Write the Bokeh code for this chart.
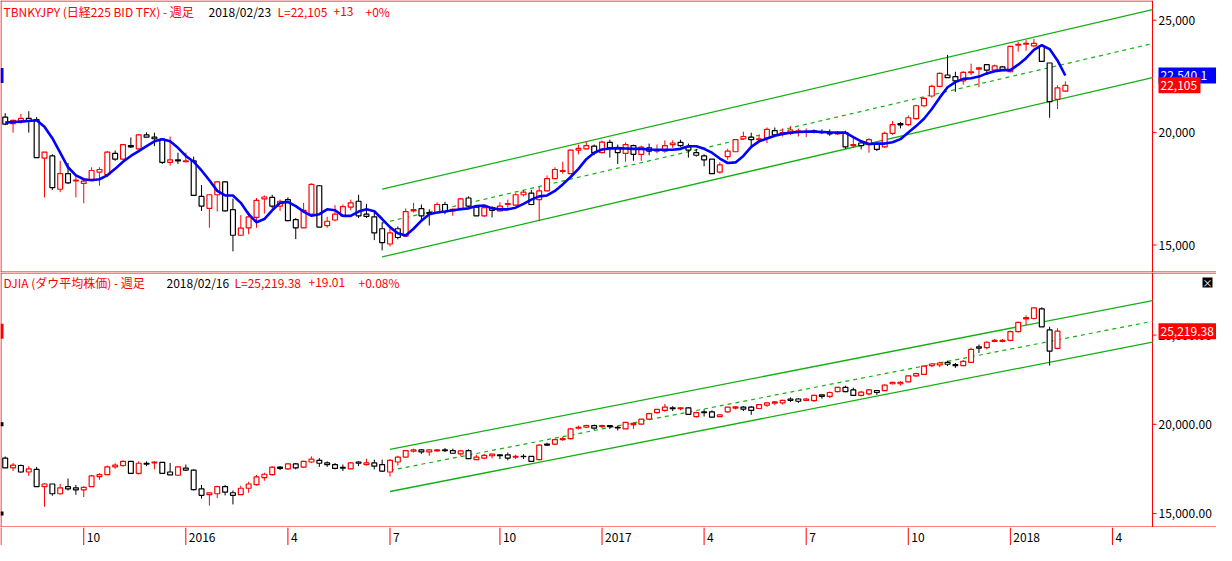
import pandas as pd
from bokeh.plotting import figure
from bokeh.layouts import column
from bokeh.models import ColumnDataSource, Range1d, Label
from bokeh.core.properties import value
from bokeh.embed import file_html
from bokeh.resources import INLINE

# ---------------- data ----------------
first_week = "2015-07-24"   # weekly bars (Friday dates)
weeks = pd.date_range(first_week, periods=148, freq="W-FRI")

# TBNKYJPY (Nikkei 225 CFD) weekly OHLC
nk_open = [20691, 20402, 20518, 20635, 20574, 18864, 18963, 17481, 18172, 17853,
           17740, 17926, 18242, 18129, 19080, 18820, 19425, 19278, 19900, 19797,
           19710, 18674, 18790, 18704, 18747, 17162, 16630, 17235, 17810, 16574,
           15434, 15766, 16228, 17049, 17118, 16730, 17019, 16125, 15766, 16371,
           17637, 15866, 16112, 16298, 16686, 16946, 16371, 16254, 15723, 15045,
           15723, 15390, 16514, 16617, 16444, 16444, 16803, 16514, 16630, 17092,
           16686, 16298, 16660, 16514, 16803, 16773, 17235, 17308, 17019, 17408,
           17956, 18272, 18172, 19222, 19278, 19395, 19106, 19568, 19322, 19080,
           19425, 19036, 19322, 19179, 19179, 19468, 19568, 19365, 19106, 18963,
           18820, 18242, 18933, 19149, 19728, 19797, 19684, 19754, 20086, 19944,
           19970, 20013, 20013, 20073, 20043, 20000, 19944, 20000, 19425, 19538,
           19468, 19512, 19365, 19970, 20402, 20358, 20618, 21196, 21628, 22060,
           22562, 22492, 22302, 22665, 22821, 23024, 22778, 22924, 22708, 23888,
           23931, 23858, 23858, 23097, 21482, 21844]
nk_high = [20864, 20574, 20834, 20950, 20691, 19136, 19036, 18747, 18648, 18069,
           17982, 18458, 18458, 19179, 19209, 19468, 19784, 19944, 20013, 20000,
           19741, 19827, 19106, 19106, 18933, 17667, 17235, 17840, 17840, 17062,
           16328, 16488, 17092, 17205, 17235, 17019, 17118, 16198, 16876, 17740,
           17667, 16254, 16773, 16803, 17019, 17235, 16833, 16444, 16012, 15723,
           15822, 16630, 16876, 16803, 16587, 16902, 16920, 16630, 17092, 17162,
           16730, 16730, 16730, 16902, 17019, 17308, 17451, 17451, 17594, 18099,
           18458, 18704, 19252, 19468, 19611, 19468, 19641, 19684, 19468, 19568,
           19468, 19425, 19512, 19468, 19654, 19654, 19684, 19512, 19278, 19036,
           18820, 18674, 19278, 19710, 20043, 20000, 19900, 20229, 20229, 20186,
           20289, 20186, 20186, 20142, 20142, 20142, 20073, 20086, 19827, 19611,
           19754, 19568, 20043, 20518, 20475, 20764, 21240, 21585, 22130, 22678,
           23456, 22708, 22734, 23067, 22924, 23024, 23024, 22968, 23858, 24030,
           24117, 24177, 23931, 23097, 22104, 22276]
nk_low = [20332, 20000, 20402, 20000, 18890, 17118, 17451, 17352, 17710, 17118,
          16859, 17883, 17637, 18026, 18747, 18790, 19322, 19252, 19797, 19395,
          18604, 18531, 18604, 18674, 17205, 16514, 15766, 16488, 16488, 14716,
          15434, 15477, 15766, 16401, 16630, 16514, 16056, 15261, 15766, 16371,
          15796, 15766, 16056, 16254, 16544, 16198, 16198, 15218, 14760, 14932,
          15248, 15364, 16444, 16056, 15866, 16401, 16371, 16298, 16587, 16686,
          16298, 16254, 16228, 16488, 16660, 16730, 17162, 16773, 16056, 17378,
          17926, 18172, 18172, 19036, 19252, 18993, 19080, 18890, 18604, 18704,
          18747, 18747, 18993, 19080, 19106, 19322, 19365, 18890, 18933, 18501,
          18172, 18172, 18790, 19136, 19684, 19365, 19581, 19538, 19857, 19827,
          19900, 19827, 19797, 19970, 19944, 19857, 19900, 19278, 19322, 19252,
          19106, 19179, 19322, 19900, 20186, 20289, 20574, 21123, 21555, 22017,
          22449, 21814, 22130, 22562, 22017, 22562, 22734, 22734, 22678, 23598,
          23642, 23788, 23166, 20661, 21050, 21814]
nk_close = [20376, 20548, 20635, 20518, 18890, 19136, 17550, 18172, 17766, 17883,
            17840, 18315, 18358, 19136, 18820, 19468, 19365, 19900, 19797, 19728,
            18674, 18790, 18747, 18747, 17205, 16730, 17235, 17810, 16514, 15434,
            15753, 16254, 16989, 17136, 16730, 16946, 16082, 15766, 16544, 17697,
            15796, 16056, 16371, 16704, 16876, 16298, 16272, 15537, 15105, 15537,
            15334, 16488, 16574, 16298, 16401, 16803, 16488, 16587, 17049, 16730,
            16298, 16660, 16544, 16730, 16846, 17235, 17352, 16803, 17408, 17956,
            18358, 18315, 19222, 19296, 19425, 19106, 19581, 19322, 19106, 19468,
            19036, 19352, 19179, 19222, 19425, 19538, 19425, 19222, 18993, 18790,
            18172, 18561, 19179, 19684, 19827, 19684, 19728, 20142, 19900, 20000,
            20116, 20073, 20043, 20043, 20000, 19944, 20000, 19365, 19468, 19425,
            19684, 19252, 19970, 20358, 20345, 20661, 21196, 21525, 22060, 22635,
            22449, 22302, 22678, 22708, 22881, 22778, 22968, 22778, 23832, 23931,
            23974, 23974, 23166, 21382, 21987, 22105]
# blue moving-average line
nk_ma = [20445, 20475, 20488, 20518, 20548, 20259, 19754, 19106, 18458, 18099,
         17926, 17883, 17926, 18099, 18388, 18704, 18963, 19179, 19395, 19611,
         19710, 19611, 19322, 18963, 18704, 18315, 17883, 17408, 17205, 17205,
         16876, 16371, 16012, 16155, 16544, 16876, 16920, 16730, 16488, 16298,
         16371, 16587, 16544, 16298, 16298, 16488, 16587, 16501, 16155, 15796,
         15520, 15421, 15723, 16082, 16371, 16444, 16488, 16544, 16587, 16630,
         16730, 16760, 16630, 16587, 16587, 16660, 16833, 17019, 17162, 17205,
         17408, 17697, 18026, 18388, 18820, 19106, 19252, 19296, 19309, 19296,
         19278, 19278, 19252, 19235, 19235, 19235, 19278, 19395, 19395, 19278,
         19106, 18846, 18648, 18674, 18963, 19365, 19611, 19741, 19857, 19944,
         20000, 20030, 20043, 20043, 20030, 20013, 20000, 20000, 19797, 19611,
         19494, 19512, 19512, 19568, 19710, 20000, 20289, 20618, 21050, 21555,
         22017, 22246, 22389, 22419, 22492, 22635, 22734, 22778, 22778, 23024,
         23313, 23685, 23888, 23715, 23210, 22540.1]

# DJIA weekly OHLC
dj_open = [18108, 17563, 17694, 17328, 17476, 16510, 16658, 16112, 16510, 16440,
           16331, 16510, 17072, 17181, 17617, 17694, 17928, 17257, 17819, 17835,
           17874, 17328, 17148, 17547, 17437, 16385, 16057, 16112, 16510, 16167,
           16057, 16418, 16620, 17018, 17181, 17601, 17508, 17781, 17601, 17890,
           17983, 17835, 17748, 17585, 17508, 17890, 17748, 17835, 17748, 17328,
           17890, 18163, 18491, 18566, 18454, 18512, 18566, 18528, 18348, 18528,
           18021, 18108, 18239, 18294, 18294, 18163, 18201, 18201, 18021, 18893,
           18893, 19144, 19199, 19782, 19837, 19930, 19875, 19930, 19837, 19744,
           19985, 20016, 20289, 20655, 20781, 20927, 20873, 20927, 20437, 20694,
           20694, 20437, 20694, 20909, 20966, 20966, 20888, 21075, 21184, 21200,
           21418, 21418, 21347, 21326, 21654, 21565, 21837, 22072, 21926, 21620,
           21708, 21893, 21893, 22274, 22274, 22383, 22711, 22798, 23289, 23327,
           23474, 23343, 23289, 23474, 24347, 24292, 24652, 24652, 24706, 25197,
           25906, 25928, 26473, 25290, 24254]
dj_high = [18201, 17835, 17748, 17656, 17617, 16696, 16658, 16658, 16963, 16603,
           16528, 17165, 17257, 17694, 17819, 17983, 17928, 17928, 17928, 17928,
           17874, 17835, 17656, 17748, 17476, 16603, 16161, 16565, 16603, 16292,
           16565, 16783, 17165, 17290, 17656, 17656, 17835, 17835, 17966, 18201,
           18108, 17928, 17835, 17748, 17890, 17928, 18075, 18021, 18021, 18054,
           18239, 18566, 18637, 18599, 18599, 18621, 18675, 18637, 18566, 18599,
           18294, 18348, 18348, 18294, 18419, 18294, 18327, 18201, 18893, 18964,
           19199, 19291, 19799, 19930, 19985, 19985, 19985, 19930, 19930, 20109,
           20109, 20289, 20655, 20836, 21146, 21019, 20966, 20966, 20710, 20836,
           20781, 20562, 20966, 21019, 21019, 21019, 21108, 21238, 21309, 21381,
           21511, 21473, 21473, 21654, 21654, 21837, 22111, 22165, 22056, 21871,
           21981, 21893, 22236, 22383, 22416, 22744, 22890, 23289, 23436, 23507,
           23561, 23436, 23599, 24292, 24472, 24652, 24783, 24783, 25252, 25742,
           26108, 26560, 26560, 25465, 25383]
dj_low = [17563, 17383, 17290, 17110, 16510, 15382, 15998, 16057, 16292, 16057,
          15928, 16510, 16892, 17148, 17508, 17617, 17257, 17181, 17656, 17476,
          17257, 17165, 17110, 17383, 16292, 15840, 15437, 15873, 16020, 15513,
          16057, 16167, 16565, 16838, 17110, 17437, 17437, 17476, 17547, 17835,
          17617, 17617, 17476, 17383, 17476, 17656, 17694, 17476, 17328, 17072,
          17694, 18163, 18419, 18348, 18239, 18454, 18454, 18348, 18239, 18054,
          18021, 18054, 18092, 18054, 17983, 18054, 18054, 17928, 17983, 18784,
          18839, 19073, 19144, 19711, 19782, 19690, 19799, 19744, 19656, 19744,
          19744, 19985, 20235, 20600, 20710, 20746, 20781, 20529, 20372, 20437,
          20399, 20410, 20655, 20836, 20746, 20529, 20857, 20966, 21075, 21108,
          21255, 21200, 21293, 21255, 21435, 21473, 21800, 21800, 21620, 21565,
          21620, 21654, 21871, 22236, 22165, 22345, 22656, 22781, 23201, 23201,
          23262, 23163, 23256, 23436, 23998, 24199, 24597, 24597, 24652, 25143,
          25563, 25873, 25465, 23289, 24199]
dj_close = [17563, 17710, 17328, 17508, 16510, 16658, 16112, 16440, 16385, 16331,
            16473, 17110, 17181, 17617, 17710, 17928, 17257, 17819, 17765, 17890,
            17257, 17165, 17617, 17437, 16347, 16020, 16161, 16510, 16200, 16020,
            16418, 16658, 17056, 17203, 17601, 17530, 17781, 17563, 17928, 18054,
            17819, 17748, 17530, 17547, 17835, 17819, 17835, 17656, 17383, 17983,
            18163, 18528, 18566, 18454, 18566, 18566, 18528, 18381, 18512, 18075,
            18163, 18256, 18327, 18239, 18108, 18201, 18185, 17928, 18839, 18839,
            19144, 19199, 19744, 19837, 19930, 19782, 19930, 19875, 19799, 20109,
            20055, 20289, 20600, 20836, 20966, 20873, 20927, 20562, 20655, 20655,
            20399, 20529, 20966, 20982, 20857, 20781, 21108, 21200, 21255, 21347,
            21347, 21293, 21418, 21620, 21565, 21783, 22072, 21837, 21620, 21800,
            21926, 21783, 22199, 22345, 22345, 22711, 22836, 23256, 23381, 23436,
            23365, 23289, 23529, 24199, 24270, 24597, 24706, 24706, 25197, 25710,
            25982, 26528, 25465, 24106, 25219.38]

# regression channels: [start week index, end week index (price axis)]
nk_chan_x = [48, 146.1]
nk_chan_upper = [17481, 25473]
nk_chan_mid = [15976, 23961]
nk_chan_lower = [14470, 22449]
dj_chan_x = [49, 146.1]
dj_chan_upper = [18599, 26936]
dj_chan_mid = [17418, 25772]
dj_chan_lower = [16237, 24607]

price_ticks = [15000, 20000, 25000]

# ---------------- styling ----------------
RED = "#FF0000"
BLACK = "#000000"
BLUE = "#0000FF"
GREEN = "#12B012"
FONT = "Noto Sans CJK JP"

W = 1216           # figure / frame width
AX = 1152          # pixel position of the price axis inside the frame
TOP_H, BOT_H, STRIP_H = 272, 255, 18

X0, X1 = -0.6, 146.1                    # X1 = price axis position (week index)
XE = X0 + (X1 - X0) * W / AX             # right end of the frame
PX = (XE - X0) / W                       # one pixel in week units
x_range = Range1d(X0, XE)


def candle_source(o, h, l, c):
    n = len(o)
    return ColumnDataSource(dict(
        x=list(range(n)),
        high=h, low=l,
        top=[max(a, b) for a, b in zip(o, c)],
        bottom=[min(a, b) for a, b in zip(o, c)],
        color=[RED if cc >= oo else BLACK for oo, cc in zip(o, c)],
    ))


def panel(height, ylo, yhi, label_fmt, top_line_to):
    p = figure(width=W, height=height,
               x_range=x_range, y_range=Range1d(ylo, yhi),
               output_backend="svg", toolbar_location=None,
               x_axis_location=None, y_axis_location=None,
               min_border=0,
               background_fill_color="white", border_fill_color="white",
               outline_line_color=None)
    p.xgrid.visible = False
    p.ygrid.visible = False
    py = (yhi - ylo) / height
    # frame lines
    p.segment(x0=[X0 + 0.5 * PX], y0=[ylo], x1=[X0 + 0.5 * PX], y1=[yhi],
              line_color=RED, line_width=1)
    p.segment(x0=[X0], y0=[yhi - 0.5 * py], x1=[top_line_to], y1=[yhi - 0.5 * py],
              line_color=RED, line_width=1)
    p.segment(x0=[X0], y0=[ylo + 0.5 * py], x1=[XE], y1=[ylo + 0.5 * py],
              line_color=RED, line_width=1)
    # price axis: line, ticks and labels
    p.segment(x0=[X1], y0=[ylo], x1=[X1], y1=[yhi], line_color=RED, line_width=1)
    p.ray(x=[X1] * len(price_ticks), y=price_ticks, length=4, length_units="screen",
          angle=0, line_color=RED, line_width=1)
    p.text(x=[X1] * len(price_ticks), y=price_ticks,
           text=[label_fmt.format(t) for t in price_ticks], x_offset=6,
           text_font=value(FONT), text_font_size="12px", text_color=BLACK,
           text_align="left", text_baseline="middle")
    return p


def left_marker(p, yv, color, h):
    # small price marker on the left edge of a panel
    p.rect(x=[X0 + 1.5 * PX], y=[yv], width=3, height=h, width_units="screen",
           height_units="screen", fill_color=color, line_color=None)


def draw_channel(p, xs, up, mid, lo):
    p.line(xs, up, color=GREEN, line_width=1.3)
    p.line(xs, lo, color=GREEN, line_width=1.3)
    p.line(xs, mid, color=GREEN, line_width=1.2, line_dash="4 4")


def draw_candles(p, src):
    p.segment(x0="x", y0="high", x1="x", y1="low", source=src,
              line_color="color", line_width=1)
    p.vbar(x="x", width=0.62, top="top", bottom="bottom", source=src,
           fill_color="white", line_color="color", line_width=1.2)


def title_parts(p, parts, ypos):
    for txt, xs, col in parts:
        p.add_layout(Label(x=xs, y=ypos, x_units="screen", y_units="screen",
                           text=txt, text_color=col, text_font=FONT,
                           text_font_size="12px", text_baseline="middle",
                           text_align="left"))


def price_box(p, yv, txt, bg, box_w):
    # coloured box on the price axis with the current value in white
    gap = 6
    p.rect(x=[X1 + (gap + box_w / 2) * PX], y=[yv], width=box_w, height=16,
           width_units="screen", height_units="screen",
           fill_color=bg, line_color=None)
    p.text(x=[X1], y=[yv], text=[txt], x_offset=gap + 2,
           text_font=value(FONT), text_font_size="12px", text_color="white",
           text_align="left", text_baseline="middle")


# ---- top panel: Nikkei ----
p1 = panel(TOP_H, 13777, 25877, "{:,.0f}", X1)
draw_channel(p1, nk_chan_x, nk_chan_upper, nk_chan_mid, nk_chan_lower)
draw_candles(p1, candle_source(nk_open, nk_high, nk_low, nk_close))
p1.line(list(range(len(nk_ma))), nk_ma, color=BLUE, line_width=2.6)
left_marker(p1, nk_ma[-1], BLUE, 15)
title_parts(p1, [("TBNKYJPY (日経225 BID TFX) - 週足", 3, RED),
                 ("2018/02/23", 208, BLACK),
                 ("L=22,105", 277, RED),
                 ("+13", 333, RED),
                 ("+0%", 365, RED)], TOP_H - 11)
price_box(p1, nk_ma[-1], "{:,.1f}".format(nk_ma[-1]), BLUE, 60)
price_box(p1, nk_close[-1], "{:,.0f}".format(nk_close[-1]), RED, 42)

# ---- bottom panel: DJIA ----
p2 = panel(BOT_H, 14220, 28506, "{:,.2f}", XE)
draw_channel(p2, dj_chan_x, dj_chan_upper, dj_chan_mid, dj_chan_lower)
draw_candles(p2, candle_source(dj_open, dj_high, dj_low, dj_close))
left_marker(p2, dj_close[-1], RED, 15)
left_marker(p2, price_ticks[0], BLACK, 4)
left_marker(p2, price_ticks[1], BLACK, 4)
title_parts(p2, [("DJIA (ダウ平均株価) - 週足", 3, RED),
                 ("2018/02/16", 166, BLACK),
                 ("L=25,219.38", 234, RED),
                 ("+19.01", 308, RED),
                 ("+0.08%", 358, RED)], BOT_H - 10)
price_box(p2, dj_close[-1], "{:,.2f}".format(dj_close[-1]), RED, 60)
# small close button at the top right of the lower panel
py2 = (28506 - 14220) / BOT_H
p2.rect(x=[XE - 9 * PX], y=[28506 - 10 * py2], width=10, height=10,
        width_units="screen", height_units="screen", fill_color=BLACK, line_color=None)
p2.text(x=[XE - 9 * PX], y=[28506 - 10 * py2], text=["×"],
        text_font=value(FONT), text_font_size="10px", text_color="white",
        text_align="center", text_baseline="middle")

# ---- time axis strip ----
tick_idx, tick_lab = [], []
prev_month = None
for i, d in enumerate(weeks):
    if d.month != prev_month and d.month in (1, 4, 7, 10) and i > 0:
        tick_idx.append(i)
        tick_lab.append(str(d.year) if d.month == 1 else str(d.month))
    prev_month = d.month

p3 = figure(width=W, height=STRIP_H,
            x_range=x_range, y_range=Range1d(0, STRIP_H),
            output_backend="svg", toolbar_location=None,
            x_axis_location=None, y_axis_location=None,
            min_border=0, outline_line_color=None,
            background_fill_color="white", border_fill_color="white")
p3.xgrid.visible = False
p3.ygrid.visible = False
tsrc = ColumnDataSource(dict(x=tick_idx, y0=[0] * len(tick_idx),
                             y1=[STRIP_H] * len(tick_idx),
                             ym=[STRIP_H / 2 - 1] * len(tick_idx), lab=tick_lab))
p3.segment(x0="x", y0="y0", x1="x", y1="y1", source=tsrc, line_color=RED, line_width=1)
p3.text(x="x", y="ym", text="lab", source=tsrc, x_offset=3,
        text_font=value(FONT), text_font_size="12px", text_color=BLACK,
        text_align="left", text_baseline="middle")
p3.segment(x0=[X0 + 0.5 * PX], y0=[0], x1=[X0 + 0.5 * PX], y1=[STRIP_H],
           line_color=RED, line_width=1)

layout = column(p1, p2, p3, spacing=0)
open("out.html", "w").write(file_html(layout, INLINE))
